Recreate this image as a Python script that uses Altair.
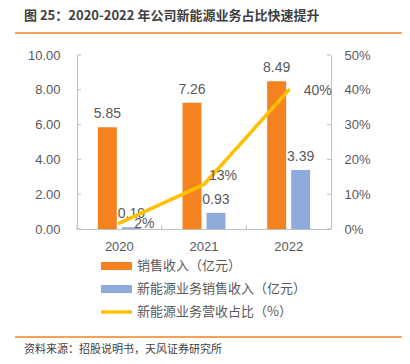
import altair as alt
import pandas as pd

years = ["2020", "2021", "2022"]
sales = [5.85, 7.26, 8.49]
ne_sales = [0.10, 0.93, 3.39]
ne_share = [0.017, 0.128, 0.399]
series = ["销售收入（亿元）", "新能源业务销售收入（亿元）", "新能源业务营收占比（%）"]
colors = ["#F5821F", "#8FAADC", "#FFC000"]
left_ticks = [0, 2, 4, 6, 8, 10]
right_ticks = [0, 0.1, 0.2, 0.3, 0.4, 0.5]
title_text = "图 25：2020-2022 年公司新能源业务占比快速提升"
source_text = "资料来源：招股说明书，天风证券研究所"

bars_df = pd.DataFrame({
    "year": years * 2,
    "series": [series[0]] * 3 + [series[1]] * 3,
    "value": sales + ne_sales,
})
line_df = pd.DataFrame({"year": years, "series": [series[2]] * 3, "share": ne_share})
lt_df = pd.DataFrame({"value": left_ticks})
rt_df = pd.DataFrame({"share": right_ticks})
yr_df = pd.DataFrame({"year": years})
one = pd.DataFrame({"title": [title_text], "source": [source_text]})

W, H = 254, 174
FONT = "Liberation Sans, Noto Sans CJK SC"
CJK = "Noto Sans CJK SC"
GRAY = "#595959"
AXIS = "#BFBFBF"
ORANGE = "#F5821F"

color_scale = alt.Scale(domain=series, range=colors)
shape_scale = alt.Scale(domain=series, range=[
    "M-1,-0.26H1V0.26H-1Z", "M-1,-0.26H1V0.26H-1Z", "M-1,-0.11H1V0.11H-1Z"])

legend = alt.Legend(title=None, orient="none", legendX=24, legendY=204,
                    symbolSize=961, clipHeight=14, rowPadding=9,
                    labelFontSize=13, labelColor=GRAY, labelFont=CJK, labelLimit=400,
                    labelOffset=5, symbolStrokeWidth=0, symbolOpacity=1,
                    padding=0, direction="vertical")

x_enc = alt.X("year:N", sort=years,
              scale=alt.Scale(paddingInner=0, paddingOuter=0),
              axis=alt.Axis(title=None, labelAngle=0, ticks=False, domainColor=AXIS,
                            labelColor=GRAY, labelFontSize=13, labelFont=FONT,
                            labelPadding=11))
xoff = alt.XOffset("series:N", sort=series[:2],
                   scale=alt.Scale(domain=series[:2], paddingInner=0.21, paddingOuter=0.87))
left_axis = alt.Axis(title=None, values=left_ticks, format=".2f", ticks=False,
                     grid=False, domainColor=AXIS, labelColor=GRAY,
                     labelOverlap=False, labelFlush=False,
                     labelFontSize=13, labelFont=FONT, labelPadding=17)
right_axis = alt.Axis(title=None, orient="right", values=right_ticks, format=".0%",
                      ticks=False, grid=False, domainColor=AXIS, labelColor=GRAY,
                      labelOverlap=False, labelFlush=False,
                      labelFontSize=13, labelFont=FONT, labelPadding=13)
y_left = alt.Y("value:Q", scale=alt.Scale(domain=[0, 10]), axis=left_axis)
y_right = alt.Y("share:Q", scale=alt.Scale(domain=[0, 0.5]), axis=right_axis)

bars = alt.Chart(bars_df).mark_bar().encode(
    x=x_enc, xOffset=xoff, y=y_left,
    color=alt.Color("series:N", scale=color_scale, legend=legend))
bar_text = alt.Chart(bars_df).mark_text(baseline="alphabetic", dy=-9, fontSize=14,
                                        font=FONT, color=GRAY).encode(
    x=x_enc, xOffset=xoff, y=y_left, text=alt.Text("value:Q", format=".2f"))
lticks = alt.Chart(lt_df).mark_rule(color=AXIS).encode(
    y=y_left, x=alt.value(0), x2=alt.value(4))
xticks = alt.Chart(yr_df).mark_rule(color=AXIS).encode(
    x=alt.X("year:N", sort=years, bandPosition=0), y=alt.value(H - 4), y2=alt.value(H))
title = alt.Chart(one).mark_text(align="left", baseline="middle", fontSize=13,
                                 fontWeight="bold", font=CJK, color="#404040").encode(
    x=alt.value(-53), y=alt.value(-39), text="title:N")
source = alt.Chart(one).mark_text(align="left", baseline="middle", fontSize=11,
                                  font=CJK, color="#404040").encode(
    x=alt.value(-53), y=alt.value(295), text="source:N")
top_rule = alt.Chart(one).mark_rule(color=ORANGE, strokeWidth=1.5).encode(
    x=alt.value(-62), x2=alt.value(333), y=alt.value(-22))
bot_rule = alt.Chart(one).mark_rule(color=ORANGE, strokeWidth=1.5).encode(
    x=alt.value(-62), x2=alt.value(333), y=alt.value(282))

left = alt.layer(bars, bar_text, lticks, xticks, title, source, top_rule, bot_rule)

line = alt.Chart(line_df).mark_line(color="#FFC000", strokeWidth=3.5, strokeCap="round").encode(
    x=x_enc, y=y_right)
pts = alt.Chart(line_df).mark_point(opacity=0, filled=True).encode(
    x=x_enc, y=y_right,
    color=alt.Color("series:N", scale=color_scale, legend=legend),
    shape=alt.Shape("series:N", scale=shape_scale, legend=legend))
lab_other = alt.Chart(line_df).transform_filter(alt.datum.year != "2021").mark_text(
    align="left", baseline="middle", dx=15, dy=1, fontSize=14, font=FONT, color=GRAY).encode(
    x=x_enc, y=y_right, text=alt.Text("share:Q", format=".0%"))
lab_mid = alt.Chart(line_df).transform_filter(alt.datum.year == "2021").mark_text(
    align="left", baseline="middle", dx=5, dy=-8, fontSize=14, font=FONT, color=GRAY).encode(
    x=x_enc, y=y_right, text=alt.Text("share:Q", format=".0%"))
rticks = alt.Chart(rt_df).mark_rule(color=AXIS).encode(
    y=y_right, x=alt.value(W - 4), x2=alt.value(W))

right = alt.layer(line, pts, lab_other, lab_mid, rticks)

chart = alt.layer(left, right).resolve_scale(y="independent").properties(
    width=W, height=H, autosize="none",
    padding={"left": 69, "top": 47, "right": 71, "bottom": 127},
).configure_view(stroke=None)

chart.save("out.html", embed_options={"renderer": "svg", "actions": False})
